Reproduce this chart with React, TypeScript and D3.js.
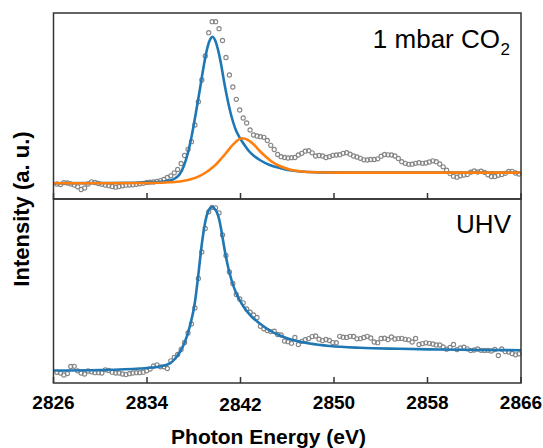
import React from 'react';
import * as d3 from 'd3';

// Energy sampling of the measured spectra (eV)
const E0 = 2826.3;
const DE = 0.295;

// 1 mbar CO2 spectrum (a.u.)
const co2Intensity = [
  0.15, 0.145, 0.163, 0.16, 0.15, 0.14, 0.122, 0.095, 0.11, 0.15,
  0.172, 0.165, 0.155, 0.147, 0.14, 0.133, 0.125, 0.118, 0.125, 0.132,
  0.138, 0.14, 0.142, 0.147, 0.152, 0.157, 0.166, 0.168, 0.17, 0.177,
  0.184, 0.195, 0.215, 0.232, 0.262, 0.295, 0.355, 0.435, 0.497, 0.573,
  0.74, 0.973, 1.19, 1.43, 1.663, 1.773, 1.773, 1.703, 1.585, 1.415,
  1.24, 1.12, 0.997, 0.89, 0.81, 0.76, 0.69, 0.64, 0.63, 0.623,
  0.617, 0.585, 0.537, 0.495, 0.445, 0.423, 0.415, 0.41, 0.413, 0.415,
  0.44, 0.457, 0.478, 0.483, 0.462, 0.43, 0.435, 0.43, 0.415, 0.423,
  0.437, 0.44, 0.443, 0.457, 0.463, 0.448, 0.43, 0.42, 0.407, 0.392,
  0.39, 0.395, 0.395, 0.402, 0.428, 0.445, 0.442, 0.44, 0.43, 0.405,
  0.373, 0.357, 0.347, 0.348, 0.357, 0.363, 0.357, 0.36, 0.37, 0.382,
  0.373, 0.35, 0.322, 0.288, 0.254, 0.228, 0.218, 0.232, 0.24, 0.245,
  0.268, 0.28, 0.27, 0.278, 0.267, 0.242, 0.225, 0.225, 0.237, 0.245,
  0.257, 0.275, 0.277, 0.26, 0.25,
];

// UHV spectrum (a.u.)
const uhvIntensity = [
  0.107, 0.1, 0.08, 0.095, 0.165, 0.167, 0.122, 0.1, 0.09, 0.12,
  0.112, 0.103, 0.103, 0.1, 0.132, 0.125, 0.108, 0.1, 0.1, 0.09,
  0.084, 0.093, 0.1, 0.103, 0.103, 0.108, 0.122, 0.14, 0.17, 0.182,
  0.162, 0.162, 0.145, 0.222, 0.255, 0.285, 0.335, 0.405, 0.5, 0.59,
  0.75, 1.045, 1.31, 1.545, 1.712, 1.757, 1.752, 1.702, 1.48, 1.275,
  1.11, 0.995, 0.885, 0.84, 0.802, 0.74, 0.708, 0.68, 0.655, 0.567,
  0.542, 0.525, 0.514, 0.518, 0.485, 0.48, 0.42, 0.413, 0.398, 0.455,
  0.385, 0.417, 0.433, 0.444, 0.464, 0.47, 0.438, 0.424, 0.435, 0.425,
  0.404, 0.403, 0.467, 0.458, 0.456, 0.467, 0.465, 0.442, 0.444, 0.455,
  0.467, 0.45, 0.41, 0.403, 0.445, 0.448, 0.435, 0.46, 0.44, 0.444,
  0.446, 0.437, 0.432, 0.41, 0.445, 0.385, 0.394, 0.402, 0.397, 0.39,
  0.38, 0.38, 0.36, 0.338, 0.355, 0.385, 0.334, 0.35, 0.358, 0.342,
  0.324, 0.33, 0.34, 0.327, 0.326, 0.327, 0.32, 0.335, 0.275, 0.34,
  0.314, 0.31, 0.295, 0.282, 0.292,
];

// Fit components [energy, intensity]
const co2FitMain: [number, number][] = [
  [2826, 0.158], [2829.97, 0.16], [2833.39, 0.165], [2835.1, 0.172], [2835.96, 0.185],
  [2836.38, 0.205], [2836.81, 0.25], [2837.15, 0.33], [2837.5, 0.46], [2837.84, 0.64],
  [2838.18, 0.86], [2838.53, 1.1], [2838.87, 1.34], [2839.12, 1.49], [2839.38, 1.59],
  [2839.61, 1.623], [2839.8, 1.595], [2840.06, 1.5], [2840.32, 1.36], [2840.57, 1.19],
  [2840.83, 1.03], [2841.09, 0.89], [2841.34, 0.78], [2841.6, 0.69], [2841.85, 0.63],
  [2842.11, 0.58], [2842.46, 0.52], [2842.79, 0.47], [2843.22, 0.425], [2843.65, 0.39],
  [2844.5, 0.34], [2845.36, 0.31], [2846.21, 0.287], [2847.07, 0.275], [2848.78, 0.266],
  [2852.2, 0.264], [2866, 0.264],
];

const co2FitSecond: [number, number][] = [
  [2826, 0.157], [2834.25, 0.16], [2836.0, 0.167], [2836.81, 0.175], [2837.67, 0.195],
  [2838.52, 0.232], [2839.09, 0.27], [2839.55, 0.31], [2839.95, 0.352], [2840.4, 0.41],
  [2840.8, 0.465], [2841.25, 0.53], [2841.66, 0.578], [2842.11, 0.607], [2842.62, 0.592],
  [2843.14, 0.545], [2843.65, 0.48], [2844.15, 0.425], [2844.66, 0.375], [2845.36, 0.33],
  [2846.21, 0.295], [2847.07, 0.277], [2848.35, 0.267], [2850.49, 0.264], [2866, 0.264],
];

const uhvFit: [number, number][] = [
  [2826, 0.125], [2829.97, 0.13], [2833.39, 0.145], [2835.1, 0.165], [2835.96, 0.197],
  [2836.38, 0.24], [2836.81, 0.31], [2837.24, 0.41], [2837.67, 0.57], [2838.09, 0.8],
  [2838.38, 1.07], [2838.67, 1.37], [2838.95, 1.59], [2839.21, 1.71], [2839.42, 1.75],
  [2839.57, 1.76], [2839.76, 1.745], [2839.97, 1.71], [2840.19, 1.63], [2840.4, 1.5],
  [2840.66, 1.32], [2840.94, 1.16], [2841.23, 1.03], [2841.66, 0.89], [2842.22, 0.77],
  [2842.94, 0.665], [2843.65, 0.595], [2844.5, 0.525], [2845.36, 0.475], [2846.47, 0.43],
  [2847.92, 0.395], [2849.63, 0.37], [2852.2, 0.352], [2855.62, 0.342], [2859.03, 0.335],
  [2862.45, 0.33], [2866, 0.328],
];

const xTicks = [2826, 2834, 2842, 2850, 2858, 2866];

const BLUE = '#1f77b4';
const ORANGE = '#ff7f0e';
const GRAY = '#858585';
const FRAME = '#333333';

const X_LEFT = 53.5;
const X_RIGHT = 521;

function Panel({
  top, bottom, yMax, data, fits,
}: {
  top: number; bottom: number; yMax: number; data: number[];
  fits: { pts: [number, number][]; color: string }[];
}) {
  const x = d3.scaleLinear().domain([2826, 2866]).range([X_LEFT, X_RIGHT]);
  const y = d3.scaleLinear().domain([0, yMax]).range([bottom, top]);
  const line = d3.line<[number, number]>()
    .x((d) => x(d[0]))
    .y((d) => y(d[1]))
    .curve(d3.curveMonotoneX);
  return (
    <g>
      {data.map((v, i) => (
        <circle key={i} cx={x(E0 + DE * i)} cy={y(v)} r={2.1}
          fill="none" stroke={GRAY} strokeWidth={1.1} />
      ))}
      {fits.map((f, k) => (
        <path key={k} d={line(f.pts) || ''} fill="none" stroke={f.color}
          strokeWidth={2.6} strokeLinejoin="round" />
      ))}
      <rect x={X_LEFT} y={top} width={X_RIGHT - X_LEFT} height={bottom - top}
        fill="none" stroke={FRAME} strokeWidth={1.5} />
      {xTicks.map((t) => (
        <line key={t} x1={x(t)} x2={x(t)} y1={bottom} y2={bottom - 6}
          stroke={FRAME} strokeWidth={1.5} />
      ))}
    </g>
  );
}

export default function App() {
  const x = d3.scaleLinear().domain([2826, 2866]).range([X_LEFT, X_RIGHT]);
  const font = 'Liberation Sans, Arial, Helvetica, sans-serif';
  return (
    <svg width={543} height={448} style={{ position: 'absolute', left: 0, top: 0, background: '#fff' }}
      fontFamily={font}>
      <rect width={543} height={448} fill="#fff" />
      <Panel top={13} bottom={199} yMax={1.86} data={co2Intensity}
        fits={[{ pts: co2FitMain, color: BLUE }, { pts: co2FitSecond, color: ORANGE }]} />
      <Panel top={199} bottom={383} yMax={1.84} data={uhvIntensity}
        fits={[{ pts: uhvFit, color: BLUE }]} />

      <text x={500} y={48} textAnchor="end" fontSize={26} fill="#000">
        1 mbar CO
      </text>
      <text x={500.5} y={55} textAnchor="start" fontSize={17} fill="#000">2</text>
      <text x={511} y={233} textAnchor="end" fontSize={26} fill="#000">UHV</text>

      {xTicks.map((t) => (
        <text key={t} x={x(t)} y={t === 2842 ? 411 : 409} textAnchor="middle" fontSize={19}
          fontWeight="bold" fill="#000">{t}</text>
      ))}
      <text x={268.5} y={444} textAnchor="middle" fontSize={21} fontWeight="bold" fill="#000">
        Photon Energy (eV)
      </text>
      <text transform="translate(29,209) rotate(-90)" textAnchor="middle" fontSize={22}
        fontWeight="bold" fill="#000">Intensity (a. u.)</text>
    </svg>
  );
}
